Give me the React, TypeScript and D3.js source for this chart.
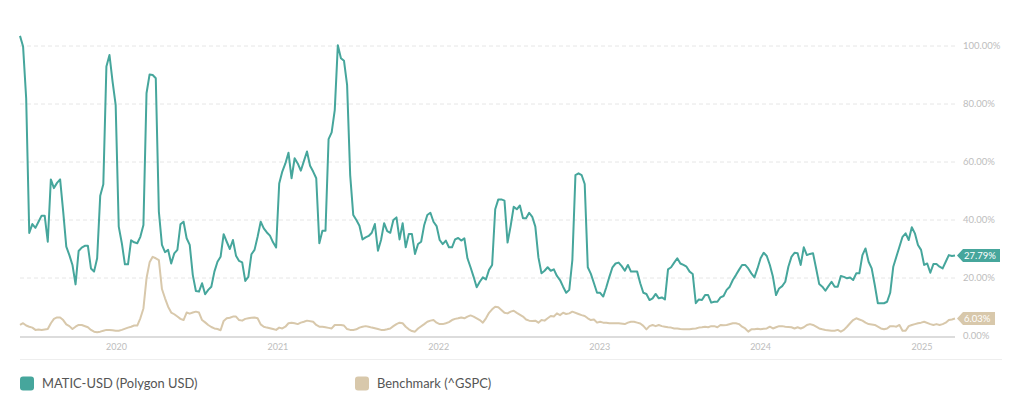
import React, { useEffect, useRef } from 'react';
import * as d3 from 'd3';

// weekly series: [week index from START, percent]
const maticPoints: [number, number][] = [
  [0, 103.5], [1, 99.8], [2, 82], [3, 35.5], [4, 38.6], [5, 37.3], [6, 39.4], [7, 41.5], [8, 41.5], [9, 32.5],
  [10, 54], [11, 51], [12, 52.8], [13, 54], [14, 42.9], [15, 30.8], [16, 27.9], [17, 24.5], [18, 17.8], [19, 29.3],
  [20, 30.5], [21, 31.1], [22, 31.1], [23, 23.3], [24, 22.2], [25, 26.8], [26, 48.4], [27, 52.3], [28, 92.9], [29, 96.9],
  [30, 87.7], [31, 79.7], [32, 37.7], [33, 32], [34, 24.7], [35, 24.7], [36, 33], [37, 32.3], [38, 32], [39, 34.2],
  [40, 38.3], [41, 83.7], [42, 90.2], [43, 90], [44, 88.9], [45, 42.9], [46, 31.4], [47, 28.9], [48, 29.7], [49, 25],
  [50, 28.5], [51, 29.7], [52, 38.5], [53, 39.4], [54, 33.7], [55, 31.4], [56, 21], [57, 15.5], [58, 15.3], [59, 18.2],
  [60, 14.4], [61, 15.9], [62, 17], [63, 22.2], [64, 25.6], [65, 27.3], [66, 35.1], [67, 32.5], [68, 30], [69, 33.1],
  [70, 27.7], [71, 25.9], [72, 25.4], [73, 19], [74, 20.4], [75, 28.2], [76, 29.7], [77, 34.2], [78, 39.4], [79, 37.1],
  [80, 35.7], [81, 34.6], [82, 32.3], [83, 30.5], [84, 52.6], [85, 56.7], [86, 59.5], [87, 63.2], [88, 54.4], [89, 61.3],
  [90, 59.5], [91, 57], [92, 60.3], [93, 63.6], [94, 58.7], [95, 56.7], [96, 54.4], [97, 32], [98, 36.3], [99, 36.3],
  [100, 67.9], [101, 70.2], [102, 77.9], [103, 100.3], [104, 95.8], [105, 94.9], [106, 86.6], [107, 55.5], [108, 41.7], [109, 40],
  [110, 38], [111, 33.3], [112, 34], [113, 34.5], [114, 35.6], [115, 38.6], [116, 29.4], [117, 33.1], [118, 38.9], [119, 36.2],
  [120, 35.6], [121, 40], [122, 40.9], [123, 33.3], [124, 38.9], [125, 30.6], [126, 35.2], [127, 35.2], [128, 28.3], [129, 31.7],
  [130, 32.5], [131, 38.3], [132, 41.7], [133, 42.5], [134, 39.4], [135, 37.9], [136, 33.1], [137, 31.7], [138, 32.9], [139, 30.6],
  [140, 30.6], [141, 33.3], [142, 33.8], [143, 32.9], [144, 33.7], [145, 26.8], [146, 23.7], [147, 20.4], [148, 16.8], [149, 18.7],
  [150, 20.2], [151, 19.5], [152, 22.8], [153, 24.5], [154, 43.7], [155, 47.1], [156, 47.1], [157, 46.7], [158, 32.2], [159, 37.9],
  [160, 44.6], [161, 43.7], [162, 45], [163, 40.6], [164, 40.6], [165, 42.5], [166, 41.1], [167, 37.7], [168, 27.1], [169, 21.6],
  [170, 22.5], [171, 23.7], [172, 22.5], [173, 23], [174, 20.7], [175, 19.3], [176, 17], [177, 14.9], [178, 15.9], [179, 26.2],
  [180, 55.5], [181, 56.1], [182, 55.5], [183, 52.4], [184, 23.7], [185, 21.4], [186, 18.2], [187, 14.9], [188, 14.9], [189, 13.6],
  [190, 16.8], [191, 20.4], [192, 23.7], [193, 25], [194, 25.3], [195, 24.1], [196, 22.5], [197, 24.5], [198, 22.2], [199, 22.2],
  [200, 22.2], [201, 18.2], [202, 14.9], [203, 14.5], [204, 12.4], [205, 13], [206, 14.5], [207, 13], [208, 13.3], [209, 12.6],
  [210, 23], [211, 23.7], [212, 25.3], [213, 26.8], [214, 25], [215, 24.5], [216, 23.9], [217, 22.2], [218, 21.4], [219, 11.3],
  [220, 12.6], [221, 12.4], [222, 14.1], [223, 14.1], [224, 11.5], [225, 11.8], [226, 11.8], [227, 13.3], [228, 13.8], [229, 15.9],
  [230, 17], [231, 19.3], [232, 21], [233, 22.8], [234, 24.5], [235, 24.5], [236, 23.3], [237, 21.6], [238, 20.2], [239, 23.3],
  [240, 26.8], [241, 28.7], [242, 27.6], [243, 24.5], [244, 20.4], [245, 14.1], [246, 16.4], [247, 17.2], [248, 18.7], [249, 23.9],
  [250, 27.3], [251, 28.7], [252, 28.5], [253, 24.5], [254, 30.6], [255, 27.9], [256, 28.3], [257, 28.5], [258, 23.3], [259, 17.9],
  [260, 17], [261, 15.6], [262, 17.2], [263, 18.7], [264, 17], [265, 17], [266, 20.7], [267, 20.4], [268, 19.9], [269, 20.2],
  [270, 19.3], [271, 21.6], [272, 21.6], [273, 27.9], [274, 30.2], [275, 25.6], [276, 23.3], [277, 17.6], [278, 11.3], [279, 11.3],
  [280, 11.3], [281, 11.8], [282, 14.9], [283, 23.9], [285, 30.8], [286, 34.2], [287, 35.4], [288, 33.1], [289, 37.5], [290, 35.4],
  [291, 31.4], [292, 29.7], [293, 24.5], [294, 25], [295, 21.8], [296, 24.8], [297, 24.8], [298, 23.9], [299, 23.3], [300, 25.6],
  [301, 27.9], [302, 27.6], [303, 27.79],
];

const benchPoints: [number, number][] = [
  [0, 3.8], [1, 4.4], [2, 3.6], [3, 3.2], [4, 2.9], [5, 2.1], [6, 2.2], [7, 2.1], [9, 2.4], [10, 4.4],
  [11, 5.9], [12, 6.4], [13, 6.4], [14, 5.5], [15, 4.0], [16, 3.4], [17, 2.4], [18, 3.2], [19, 3.8], [20, 3.8],
  [22, 3.0], [23, 2.1], [24, 1.5], [25, 1.3], [26, 1.5], [27, 1.8], [28, 2.1], [29, 2.1], [30, 2.0], [31, 1.8],
  [32, 1.8], [33, 2.1], [35, 2.9], [36, 3.2], [37, 3.6], [38, 3.6], [39, 6.1], [40, 9.5], [41, 19.9], [42, 25.4],
  [43, 27.3], [44, 26.8], [45, 26.2], [46, 16.2], [47, 13], [48, 10.1], [49, 8.1], [50, 7.5], [51, 6.7], [52, 5.9],
  [53, 5.5], [54, 8.1], [55, 7.7], [56, 8.1], [57, 8.4], [58, 8.1], [59, 5.5], [60, 4.7], [61, 3.8], [62, 3.1],
  [63, 2.6], [64, 2.4], [65, 2.0], [66, 5.2], [67, 6.1], [68, 6.3], [69, 6.7], [70, 6.7], [71, 5.5], [72, 5.3],
  [73, 5.9], [74, 6.1], [75, 6.3], [76, 6.4], [77, 6.1], [78, 4.0], [79, 3.2], [80, 2.9], [82, 2.4], [83, 2.1],
  [84, 2.9], [85, 2.6], [86, 3.2], [87, 4.4], [88, 4.6], [89, 4.4], [90, 4.1], [91, 4.6], [92, 4.9], [93, 5.3],
  [95, 4.9], [96, 3.8], [97, 3.2], [98, 3.2], [99, 3.0], [100, 2.8], [101, 2.6], [102, 3.8], [103, 3.8], [104, 3.8],
  [105, 3.6], [106, 2.4], [107, 2.1], [108, 2.1], [109, 2.3], [110, 2.9], [111, 3.2], [112, 3.4], [113, 3.2], [114, 2.9],
  [116, 2.4], [117, 2.1], [118, 2.1], [119, 2.3], [120, 2.6], [121, 3.4], [122, 4.1], [123, 4.6], [124, 4.4], [125, 3.2],
  [126, 2.3], [127, 1.7], [128, 1.5], [129, 2.6], [131, 4.1], [132, 4.9], [133, 5.3], [134, 5.5], [135, 4.6], [136, 4.1],
  [137, 4.1], [138, 4.4], [139, 4.8], [140, 5.5], [141, 5.9], [142, 6.1], [143, 6.4], [144, 6.1], [145, 6.7], [146, 7.1],
  [147, 6.7], [148, 6.1], [149, 5.5], [150, 4.6], [151, 6.1], [152, 8.0], [153, 9.2], [154, 10.1], [155, 9.9], [156, 9.0],
  [157, 8.0], [158, 7.8], [159, 8.4], [160, 8.7], [161, 8.0], [163, 6.7], [164, 5.7], [165, 5.3], [166, 5.2], [167, 5.3],
  [168, 4.6], [169, 5.5], [170, 5.3], [171, 6.1], [172, 6.9], [173, 6.7], [174, 7.8], [175, 7.2], [176, 8.0], [177, 7.6],
  [178, 7.8], [179, 8.4], [181, 7.6], [182, 7.2], [183, 6.9], [184, 6.1], [185, 5.5], [186, 5.7], [187, 4.6], [188, 4.9],
  [189, 4.6], [190, 4.6], [191, 4.4], [192, 4.4], [193, 4.4], [194, 4.4], [196, 4.1], [197, 4.6], [198, 4.9], [199, 4.9],
  [200, 4.6], [201, 4.3], [202, 3.5], [203, 2.3], [204, 3.4], [205, 3.8], [206, 3.4], [207, 3.8], [208, 3.4], [209, 3.2],
  [210, 3.0], [211, 2.9], [212, 2.6], [213, 2.6], [214, 2.4], [215, 2.3], [217, 2.3], [218, 2.5], [219, 2.6], [220, 2.9],
  [221, 3.0], [222, 3.2], [223, 3.0], [224, 3.4], [225, 3.4], [226, 3.0], [227, 3.8], [228, 3.7], [229, 3.8], [231, 4.4],
  [232, 4.4], [233, 4.1], [234, 3.2], [235, 2.6], [236, 1.5], [237, 2.3], [238, 2.3], [239, 2.5], [240, 2.3], [241, 2.5],
  [242, 2.6], [243, 3.2], [244, 2.6], [245, 3.0], [246, 3.4], [247, 3.4], [248, 3.2], [250, 3.0], [251, 2.6], [252, 3.0],
  [253, 2.6], [254, 3.0], [255, 3.8], [256, 4.1], [257, 3.8], [258, 3.2], [259, 2.6], [260, 2.3], [261, 2.1], [263, 1.8],
  [264, 1.8], [265, 2.1], [266, 1.5], [267, 2.1], [268, 3.2], [269, 4.4], [270, 5.5], [271, 6.1], [272, 5.7], [273, 5.3],
  [274, 4.6], [275, 4.1], [277, 3.8], [278, 3.2], [279, 2.6], [280, 2.3], [281, 2.6], [282, 3.4], [283, 3.4], [284, 3.2],
  [285, 3.8], [286, 1.8], [287, 1.8], [288, 3.4], [289, 3.8], [290, 4.1], [291, 4.4], [292, 4.6], [293, 4.9], [295, 4.1],
  [296, 3.8], [297, 4.1], [298, 3.8], [299, 4.1], [300, 4.6], [301, 5.5], [302, 5.7], [303, 6.03],
];

const yTicks = [0, 20, 40, 60, 80, 100];
const yearTicks = [2020, 2021, 2022, 2023, 2024, 2025];
const seriesNames = ['MATIC-USD (Polygon USD)', 'Benchmark (^GSPC)'];
const seriesColors = ['#46a69c', '#d8c8ab'];

const START = new Date(2019, 4, 27);
const LAST_WEEK = 303;

const W = 1024;
const H = 397;
const FONT = 'Lato, "Open Sans", sans-serif';

const App: React.FC = () => {
  const svgRef = useRef<SVGSVGElement>(null);

  useEffect(() => {
    document.body.style.margin = '0';
    if (!svgRef.current) return;
    const svg = d3.select(svgRef.current);
    svg.selectAll('*').remove();

    const weekDate = (w: number) => d3.timeWeek.offset(START, w);

    const x = d3.scaleTime()
      .domain([START, weekDate(LAST_WEEK)])
      .range([20, 955]);
    const y = d3.scaleLinear().domain([0, 100]).range([336, 46]);

    // grid
    svg.append('g')
      .selectAll('line')
      .data(yTicks.filter(t => t > 0))
      .join('line')
      .attr('x1', 20)
      .attr('x2', 955)
      .attr('y1', d => y(d))
      .attr('y2', d => y(d))
      .attr('stroke', '#e6e6e6')
      .attr('stroke-dasharray', '4,3');

    // y labels
    svg.append('g')
      .selectAll('text')
      .data(yTicks)
      .join('text')
      .attr('x', 963)
      .attr('y', d => y(d))
      .attr('dy', '0.35em')
      .attr('font-family', FONT)
      .attr('font-size', 9.5)
      .attr('fill', '#bdbdbd')
      .text(d => `${d.toFixed(2)}%`);

    // baseline
    svg.append('line')
      .attr('x1', 20)
      .attr('x2', 955)
      .attr('y1', y(0) + 1)
      .attr('y2', y(0) + 1)
      .attr('stroke', '#dcdcdc')
      .attr('stroke-width', 2);

    // year labels
    svg.append('g')
      .selectAll('text')
      .data(yearTicks)
      .join('text')
      .attr('x', d => x(new Date(d, 0, 1)))
      .attr('y', 347)
      .attr('dy', '0.35em')
      .attr('text-anchor', 'middle')
      .attr('font-family', FONT)
      .attr('font-size', 9)
      .attr('fill', '#bdbdbd')
      .text(d => String(d));

    // separator
    svg.append('line')
      .attr('x1', 20)
      .attr('x2', 1002)
      .attr('y1', 359.5)
      .attr('y2', 359.5)
      .attr('stroke', '#eeeeee');

    const line = d3.line<[number, number]>()
      .x(d => x(weekDate(d[0])))
      .y(d => y(d[1]));

    svg.append('path')
      .datum(benchPoints)
      .attr('d', line)
      .attr('fill', 'none')
      .attr('stroke', seriesColors[1])
      .attr('stroke-width', 2)
      .attr('stroke-linejoin', 'round');

    svg.append('path')
      .datum(maticPoints)
      .attr('d', line)
      .attr('fill', 'none')
      .attr('stroke', seriesColors[0])
      .attr('stroke-width', 2)
      .attr('stroke-linejoin', 'round');

    // end value tags
    const lastVals = [maticPoints[maticPoints.length - 1][1], benchPoints[benchPoints.length - 1][1]];
    lastVals.forEach((v, i) => {
      const cy = y(v);
      const label = `${v.toFixed(2)}%`;
      const x0 = 957;
      const w = i === 0 ? 43 : 38;
      const h = 13;
      const g = svg.append('g');
      g.append('path')
        .attr('d', `M${x0},${cy} L${x0 + 6},${cy - h / 2} L${x0 + w},${cy - h / 2} L${x0 + w},${cy + h / 2} L${x0 + 6},${cy + h / 2} Z`)
        .attr('fill', seriesColors[i]);
      g.append('text')
        .attr('x', x0 + 7)
        .attr('y', cy)
        .attr('dy', '0.35em')
        .attr('font-family', FONT)
        .attr('font-size', 9.5)
        .attr('fill', '#fff')
        .text(label);
    });

    // legend
    const legendX = [20, 355];
    const legend = svg.append('g')
      .selectAll('g')
      .data(seriesNames)
      .join('g')
      .attr('transform', (_, i) => `translate(${legendX[i]},376.5)`);
    legend.append('rect')
      .attr('width', 14)
      .attr('height', 14)
      .attr('rx', 3)
      .attr('fill', (_, i) => seriesColors[i]);
    legend.append('text')
      .attr('x', 22)
      .attr('y', 7)
      .attr('dy', '0.35em')
      .attr('font-family', FONT)
      .attr('font-size', 12.9)
      .attr('fill', '#555')
      .text(d => d);
  }, []);

  return <svg ref={svgRef} width={W} height={H} style={{ display: 'block' }} />;
};

export default App;
